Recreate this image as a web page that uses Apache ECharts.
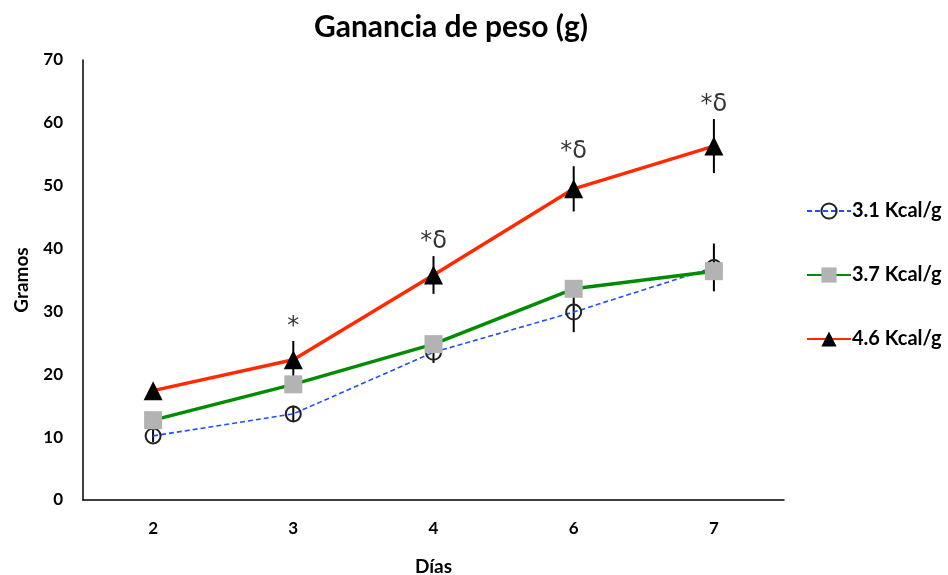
<!DOCTYPE html>
<html>
<head>
<meta charset="utf-8">
<script src="https://cdn.jsdelivr.net/npm/echarts@6/dist/echarts.min.js"></script>
<style>html,body{margin:0;padding:0;background:#fff;}#chart{width:948px;height:575px;}</style>
</head>
<body>
<div id="chart"></div>
<script>
const categories = ['2', '3', '4', '6', '7'];
const kcal31 = [10.2, 13.7, 23.5, 29.9, 37.0];
const kcal37 = [12.7, 18.4, 24.8, 33.6, 36.4];
const kcal46 = [17.4, 22.3, 35.8, 49.5, 56.3];
const err31 = [1.0, 1.3, 1.7, 3.2, 3.8];
const err37 = [1.0, 1.0, 1.0, 1.2, 1.2];
const err46 = [1.0, 3.0, 3.0, 3.6, 4.3];
const marks46 = ['', '*', '*δ', '*δ', '*δ'];
const names = ['3.1 Kcal/g', '3.7 Kcal/g', '4.6 Kcal/g'];

function errData(vals, errs) {
  return vals.map((v, i) => [i, v - errs[i], v + errs[i]]);
}
function errSeries(vals, errs, z) {
  return {
    type: 'custom',
    silent: true,
    z: z,
    data: errData(vals, errs),
    renderItem: function (params, api) {
      const p1 = api.coord([api.value(0), api.value(1)]);
      const p2 = api.coord([api.value(0), api.value(2)]);
      return {
        type: 'line',
        shape: { x1: p1[0], y1: p1[1], x2: p2[0], y2: p2[1] },
        style: { stroke: '#000', lineWidth: 2 }
      };
    }
  };
}

const chart = echarts.init(document.getElementById('chart'), null, { renderer: 'canvas' });
const boldFont = 'Lato';
chart.setOption({
  animation: false,
  title: {
    text: 'Ganancia de peso (g)',
    left: 446, top: 7, textAlign: 'center',
    textStyle: { fontFamily: boldFont, fontWeight: 'bold', fontSize: 30, color: '#000' }
  },
  legend: {
    orient: 'vertical',
    left: 806, top: 201,
    padding: 0,
    itemGap: 44,
    itemWidth: 44, itemHeight: 19,
    data: names,
    textStyle: { fontFamily: boldFont, fontWeight: 'bold', fontSize: 20, color: '#000', padding: [0, 0, 0, -4] }
  },
  grid: { left: 83, right: 164, top: 60, bottom: 75, containLabel: false, outerBoundsMode: 'none' },
  xAxis: {
    type: 'category',
    data: categories,
    boundaryGap: true,
    name: 'Días',
    nameLocation: 'middle',
    nameGap: 57,
    nameTextStyle: { fontFamily: boldFont, fontWeight: 'bold', fontSize: 19, color: '#000' },
    axisLine: { lineStyle: { color: '#000', width: 1.5 } },
    axisTick: { show: false },
    axisLabel: { margin: 20, fontFamily: boldFont, fontWeight: 'bold', fontSize: 17, color: '#000' }
  },
  yAxis: {
    type: 'value',
    min: 0, max: 70, interval: 10,
    name: 'Gramos',
    nameLocation: 'middle',
    nameGap: 52,
    nameTextStyle: { fontFamily: boldFont, fontWeight: 'bold', fontSize: 19, color: '#000' },
    axisLine: { show: true, lineStyle: { color: '#000', width: 1.5 } },
    axisTick: { show: false },
    splitLine: { show: false },
    axisLabel: { margin: 20, fontFamily: boldFont, fontWeight: 'bold', fontSize: 17, color: '#000' }
  },
  series: [
    errSeries(kcal31, err31, 1),
    errSeries(kcal37, err37, 1),
    errSeries(kcal46, err46, 1),
    {
      name: names[0], type: 'line', data: kcal31, z: 3,
      symbol: 'circle', symbolSize: 15,
      lineStyle: { color: '#1f4fff', width: 1.6, type: [5, 3] },
      itemStyle: { color: 'rgba(0,0,0,0)', borderColor: '#222', borderWidth: 2 }
    },
    {
      name: names[1], type: 'line', data: kcal37, z: 4,
      symbol: 'rect', symbolSize: 18,
      lineStyle: { color: '#008c00', width: 3.5 },
      itemStyle: { color: '#b3b3b3', borderWidth: 0 }
    },
    {
      name: names[2], type: 'line', data: kcal46, z: 5,
      symbol: 'triangle', symbolSize: 19,
      lineStyle: { color: '#ff2a00', width: 3.5 },
      itemStyle: { color: '#000', borderWidth: 0 }
    },
    {
      type: 'scatter', silent: true, z: 6,
      data: kcal46.map((v, i) => [i, v + err46[i]]),
      symbolSize: 0,
      label: {
        show: true, position: 'top', distance: 2,
        formatter: p => marks46[p.dataIndex],
        fontFamily: 'DejaVu Sans', fontSize: 24, color: '#000'
      }
    }
  ]
});
</script>
</body>
</html>
